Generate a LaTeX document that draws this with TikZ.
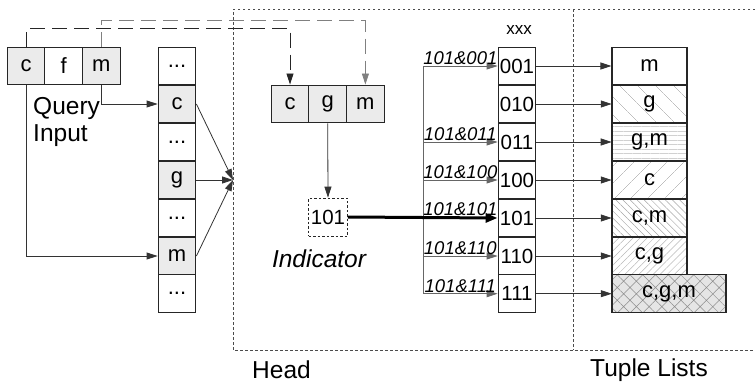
\documentclass[tikz,border=0pt]{standalone}
\usepackage{fontspec}
\setmainfont{Liberation Sans}
\usetikzlibrary{arrows.meta,patterns.meta,calc}
\begin{document}
\begin{tikzpicture}[x=1pt,y=-1pt,
  cell/.style={draw=black!85, line width=1.1pt, minimum width=37.7pt, minimum height=37.8pt, inner sep=0pt, font=\fontsize{22}{24}\selectfont},
  numcell/.style={cell, font=\fontsize{20.5}{22}\selectfont},
  tcell/.style={cell, minimum width=75pt},
  greyfill/.style={fill=black!8},
  arr/.style={draw=black!80, line width=0.8pt, -{Triangle[length=11pt,width=7pt]}},
  garr/.style={draw=black!60, line width=0.8pt, -{Triangle[length=11pt,width=7pt]}},
  thickarr/.style={draw=black, line width=3pt, -{Triangle[length=12pt,width=9pt]}},
  lab/.style={font=\fontsize{18.5}{19}\selectfont\itshape, inner sep=1pt},
  region/.style={draw=black!70, line width=0.8pt, dash pattern=on 2.5pt off 2.5pt},
  bigtext/.style={font=\fontsize{22}{25}\selectfont, inner sep=0pt},
  labtext/.style={font=\fontsize{24.5}{25}\selectfont, inner sep=0pt}
]
\useasboundingbox (0,0) rectangle (755,383);

% regions
\draw[region] (755,9) -- (233,9) -- (233,350) -- (755,350);
\draw[region] (573.5,9) -- (573.5,350);

% query input
\node[cell,greyfill] (qc) at (26,66) {c};
\node[cell] (qf) at (63.7,66) {f};
\node[cell,greyfill] (qm) at (101.4,66) {m};
\node[labtext, anchor=north west, align=left, font=\fontsize{24.5}{27}\selectfont] (qlab) at (33,97) {Query\\Input};

% column
\node[cell] (k1) at (177,66) {...};
\node[cell,greyfill] (k2) at (177,104) {c};
\node[cell] (k3) at (177,142) {...};
\node[cell,greyfill] (k4) at (177,180) {g};
\node[cell] (k5) at (177,218) {...};
\node[cell,greyfill] (k6) at (177,256) {m};
\node[cell] (k7) at (177,293.7) {...};

% head boxes
\node[cell,greyfill] (hc) at (290,104) {c};
\node[cell,greyfill] (hg) at (327.7,104) {g};
\node[cell,greyfill] (hm) at (365.4,104) {m};

% indicator
\node[draw=black!85, line width=0.8pt, dash pattern=on 2.5pt off 2pt, minimum width=39pt, minimum height=38pt, inner sep=0pt, font=\fontsize{20.5}{22}\selectfont] (ind) at (328,217) {101};
\node[labtext, font=\fontsize{24.5}{25}\selectfont\itshape] (indlab) at (319,259) {Indicator};

% xxx column
\node[font=\fontsize{17}{18}\selectfont, inner sep=0pt] (xl) at (519,30) {xxx};
\node[numcell] (x1) at (517,66) {001};
\node[numcell] (x2) at (517,104) {010};
\node[numcell] (x3) at (517,142) {011};
\node[numcell] (x4) at (517,180) {100};
\node[numcell] (x5) at (517,218) {101};
\node[numcell] (x6) at (517,256) {110};
\node[numcell] (x7) at (517,293.7) {111};

% tuple lists
\node[tcell] (t1) at (649.5,66) {m};
\node[tcell, pattern={Lines[angle=-45,distance=13pt,line width=0.5pt]}, pattern color=black!25] (t2) at (649.5,104) {};
\node[bigtext] at (t2) {g};
\node[tcell, pattern={Lines[angle=0,distance=4.5pt,line width=0.6pt]}, pattern color=black!18] (t3) at (649.5,142) {};
\node[bigtext] at (t3) {g,m};
\node[tcell, pattern={Lines[angle=45,distance=13pt,line width=0.5pt]}, pattern color=black!25] (t4) at (649.5,180) {};
\node[bigtext] at (t4) {c};
\node[tcell, pattern={Lines[angle=-45,distance=5pt,line width=0.5pt]}, pattern color=black!35] (t5) at (649.5,218) {};
\node[bigtext] at (t5) {c,m};
\node[tcell, pattern={Lines[angle=45,distance=5pt,line width=0.5pt]}, pattern color=black!28] (t6) at (649.5,256) {};
\node[bigtext] at (t6) {c,g};
\node[tcell, minimum width=114pt, preaction={fill=black!10}, pattern={Hatch[angle=45,distance=9pt,line width=0.5pt]}, pattern color=black!45] (t7) at (669,293.7) {};
\node[bigtext] at (t7) {c,g,m};

% labels bottom
\node[labtext, anchor=west] (headlab) at (252,370) {Head};
\node[labtext] (tuplab) at (649,370) {Tuple Lists};

% query to column
\draw[arr] (qm.south) |- (k2.west);
\draw[arr] (qc.south) |- (k6.west);

% dashed links
\draw[draw=black!85, line width=0.8pt, dash pattern=on 15pt off 7pt, -{Triangle[length=11pt,width=7pt]}] (qc.north) -- ++(0,-18) -| (hc.north);
\draw[draw=black!50, line width=0.8pt, dash pattern=on 15pt off 7pt, -{Triangle[length=11pt,width=7pt]}] (qm.north) -- ++(0,-26) -| (hm.north);

% column to merge point
\coordinate (mp) at (233,180);
\draw[arr] (k2.east) -- (mp);
\draw[arr] (k4.east) -- (mp);
\draw[arr] (k6.east) -- (mp);

% g to indicator
\draw[arr] (hg.south) -- (ind.north);

% bracket
\coordinate (bx) at (423,0);
\draw[draw=black!60, line width=0.8pt] (bx |- x1.west) -- (bx |- x7.west);
\draw[garr] (bx |- x1.west) -- node[lab, above] {101\&001} (x1.west);
\draw[garr] (bx |- x3.west) -- node[lab, above] {101\&011} (x3.west);
\draw[garr] (bx |- x4.west) -- node[lab, above] {101\&100} (x4.west);
\draw[garr] (bx |- x6.west) -- node[lab, above] {101\&110} (x6.west);
\draw[garr] (bx |- x7.west) -- node[lab, above] {101\&111} (x7.west);
\draw[thickarr] (ind.east) -- (x5.west);
\node[lab, above] (l5) at ($(bx |- x5.west)!0.5!(x5.west) + (0,-1)$) {101\&101};

% xxx to tuples
\draw[arr] (x1.east) -- (t1.west);
\draw[arr] (x2.east) -- (t2.west);
\draw[arr] (x3.east) -- (t3.west);
\draw[arr] (x4.east) -- (t4.west);
\draw[arr] (x5.east) -- (t5.west);
\draw[arr] (x6.east) -- (t6.west);
\draw[arr] (x7.east) -- (t7.west);
\end{tikzpicture}
\end{document}
